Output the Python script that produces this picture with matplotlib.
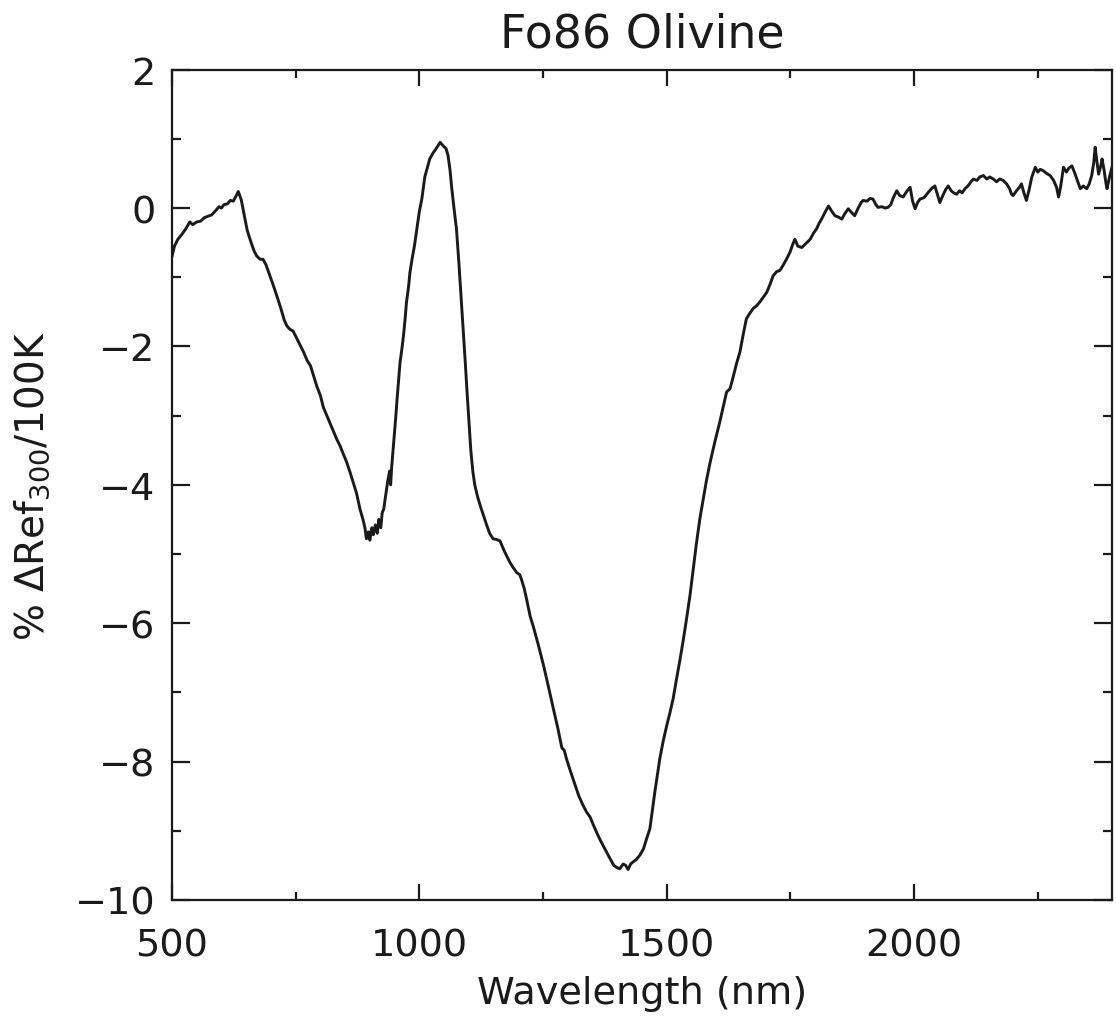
import matplotlib
matplotlib.use("Agg")
import matplotlib.pyplot as plt
from matplotlib.ticker import MultipleLocator

wavelength = [
    500, 505, 512, 520, 528, 536, 542, 550, 558, 565, 572, 580, 588, 595, 600, 605, 612, 618, 624, 630,
    634, 640, 646, 652, 660, 666, 671, 678, 684, 690, 697, 704, 712, 720, 727, 732, 738, 745, 752, 759,
    766, 773, 780, 786, 793, 800, 806, 813, 820, 826, 833, 840, 846, 853, 860, 866, 873, 880, 886, 890,
    893, 897, 900, 904, 907, 911, 915, 918, 922, 925, 928, 932, 936, 940, 942, 944, 948, 952, 955, 958,
    961, 965, 968, 971, 974, 978, 981, 985, 990, 995, 1000, 1005, 1011, 1016, 1021, 1028, 1034, 1042, 1048, 1054,
    1058, 1062, 1065, 1070, 1075, 1080, 1085, 1089, 1093, 1096, 1100, 1104, 1108, 1112, 1118, 1124, 1130, 1136, 1142, 1149,
    1156, 1163, 1170, 1176, 1183, 1190, 1197, 1203, 1207, 1212, 1217, 1224, 1230, 1240, 1251, 1261, 1271, 1280, 1288, 1293,
    1297, 1305, 1313, 1322, 1330, 1338, 1345, 1352, 1360, 1366, 1374, 1380, 1386, 1393, 1399, 1405, 1412, 1417, 1422, 1427,
    1432, 1438, 1446, 1453, 1460, 1466, 1471, 1476, 1481, 1486, 1493, 1500, 1507, 1513, 1520, 1527, 1534, 1540, 1547, 1554,
    1560, 1567, 1574, 1580, 1587, 1594, 1600, 1607, 1614, 1621, 1628, 1634, 1641, 1648, 1654, 1661, 1668, 1675, 1682, 1689,
    1696, 1702, 1709, 1715, 1722, 1729, 1735, 1742, 1749, 1755, 1759, 1765, 1773, 1780, 1786, 1790, 1797, 1803, 1808, 1813,
    1820, 1827, 1833, 1840, 1847, 1854, 1860, 1867, 1873, 1880, 1887, 1893, 1897, 1905, 1911, 1917, 1922, 1927, 1935, 1941,
    1947, 1953, 1958, 1965, 1971, 1978, 1985, 1992, 1997, 2002, 2007, 2012, 2020, 2029, 2035, 2042, 2047, 2052, 2058, 2064,
    2069, 2075, 2080, 2086, 2092, 2097, 2103, 2110, 2115, 2120, 2127, 2133, 2140, 2147, 2153, 2160, 2167, 2173, 2180, 2187,
    2193, 2197, 2200, 2207, 2213, 2217, 2222, 2227, 2232, 2238, 2245, 2250, 2255, 2261, 2268, 2275, 2282, 2288, 2292, 2296,
    2302, 2308, 2313, 2319, 2325, 2330, 2336, 2342, 2349, 2354, 2359, 2363, 2366, 2369, 2373, 2377, 2380, 2384, 2388, 2390,
    2395, 2400,
]

delta_ref = [
    -0.70, -0.55, -0.45, -0.38, -0.30, -0.20, -0.24, -0.20, -0.19, -0.14, -0.12, -0.10, -0.04, 0.02, 0.00, 0.05, 0.06, 0.11, 0.10, 0.18,
    0.24, 0.12, -0.10, -0.32, -0.50, -0.62, -0.69, -0.74, -0.74, -0.82, -0.96, -1.10, -1.27, -1.45, -1.62, -1.70, -1.75, -1.78, -1.88, -1.98,
    -2.08, -2.20, -2.28, -2.42, -2.58, -2.71, -2.88, -3.00, -3.12, -3.22, -3.34, -3.44, -3.55, -3.67, -3.82, -3.96, -4.12, -4.35, -4.50, -4.62,
    -4.78, -4.68, -4.80, -4.62, -4.72, -4.58, -4.70, -4.50, -4.62, -4.40, -4.35, -4.15, -3.95, -3.80, -4.00, -3.75, -3.40, -3.05, -2.76, -2.50,
    -2.23, -2.02, -1.84, -1.62, -1.36, -1.15, -0.93, -0.75, -0.55, -0.30, -0.05, 0.13, 0.45, 0.58, 0.71, 0.80, 0.86, 0.95, 0.90, 0.86,
    0.76, 0.55, 0.32, 0.00, -0.30, -0.80, -1.35, -1.79, -2.25, -2.61, -3.05, -3.50, -3.80, -4.00, -4.18, -4.32, -4.45, -4.58, -4.70, -4.78,
    -4.79, -4.81, -4.93, -5.02, -5.12, -5.20, -5.27, -5.30, -5.38, -5.50, -5.66, -5.90, -6.04, -6.30, -6.61, -6.92, -7.24, -7.52, -7.80, -7.84,
    -7.95, -8.13, -8.30, -8.49, -8.62, -8.73, -8.80, -8.92, -9.05, -9.14, -9.25, -9.33, -9.41, -9.50, -9.53, -9.55, -9.48, -9.50, -9.56, -9.48,
    -9.45, -9.42, -9.35, -9.26, -9.10, -8.97, -8.70, -8.44, -8.20, -7.96, -7.70, -7.48, -7.28, -7.09, -6.80, -6.52, -6.22, -5.94, -5.60, -5.20,
    -4.85, -4.49, -4.20, -3.95, -3.70, -3.48, -3.30, -3.10, -2.88, -2.66, -2.61, -2.45, -2.25, -2.08, -1.85, -1.60, -1.52, -1.45, -1.41, -1.35,
    -1.28, -1.22, -1.10, -0.98, -0.92, -0.90, -0.83, -0.74, -0.64, -0.52, -0.45, -0.55, -0.57, -0.52, -0.48, -0.45, -0.36, -0.30, -0.22, -0.16,
    -0.06, 0.03, -0.04, -0.11, -0.13, -0.16, -0.08, -0.01, -0.06, -0.11, 0.00, 0.08, 0.11, 0.10, 0.14, 0.13, 0.06, 0.01, 0.02, 0.00,
    0.01, 0.05, 0.15, 0.25, 0.18, 0.16, 0.24, 0.30, 0.10, -0.01, 0.08, 0.13, 0.15, 0.23, 0.28, 0.32, 0.20, 0.08, 0.18, 0.27,
    0.32, 0.25, 0.22, 0.20, 0.25, 0.22, 0.28, 0.33, 0.38, 0.42, 0.40, 0.45, 0.47, 0.42, 0.45, 0.42, 0.38, 0.42, 0.40, 0.35,
    0.28, 0.20, 0.18, 0.25, 0.30, 0.35, 0.22, 0.11, 0.25, 0.45, 0.59, 0.52, 0.56, 0.54, 0.50, 0.47, 0.40, 0.30, 0.16, 0.30,
    0.59, 0.52, 0.58, 0.61, 0.50, 0.40, 0.28, 0.32, 0.28, 0.35, 0.47, 0.65, 0.88, 0.70, 0.49, 0.60, 0.71, 0.55, 0.35, 0.28,
    0.45, 0.59,
]

title = "Fo86 Olivine"
xlabel = "Wavelength (nm)"
ylabel = r"% $\Delta$Ref$_{300}$/100K"

plt.rcParams["font.family"] = ["DejaVu Sans"]
plt.rcParams["mathtext.default"] = "regular"

fig = plt.figure(figsize=(11.16, 10.2), dpi=100)
ax = fig.add_axes([0.1541, 0.1167, 0.8423, 0.8140])

ax.plot(wavelength, delta_ref, color="#1a1a1a", lw=2.1)

ax.set_xlim(500, 2400)
ax.set_ylim(-10, 2)
ax.xaxis.set_major_locator(MultipleLocator(500))
ax.xaxis.set_minor_locator(MultipleLocator(250))
ax.yaxis.set_major_locator(MultipleLocator(2))
ax.yaxis.set_minor_locator(MultipleLocator(1))

ax.tick_params(which="both", direction="in", top=True, right=True, color="#1a1a1a", width=1.6)
ax.tick_params(axis="x", which="major", length=11.5, pad=20, labelsize=27.5, labelcolor="#1a1a1a")
ax.tick_params(axis="x", which="minor", length=6)
ax.tick_params(axis="y", which="major", length=13, pad=12, labelsize=27.5, labelcolor="#1a1a1a")
ax.tick_params(axis="y", which="minor", length=6.5)
for s in ax.spines.values():
    s.set_linewidth(1.6)
    s.set_color("#1a1a1a")

ax.set_title(title, fontsize=33, pad=17, color="#1a1a1a")
ax.set_xlabel(xlabel, fontsize=27.5, color="#1a1a1a", labelpad=8)
ax.set_ylabel(ylabel, fontsize=28, color="#1a1a1a", labelpad=16)

fig.savefig("out.png", dpi=100, facecolor="white")
